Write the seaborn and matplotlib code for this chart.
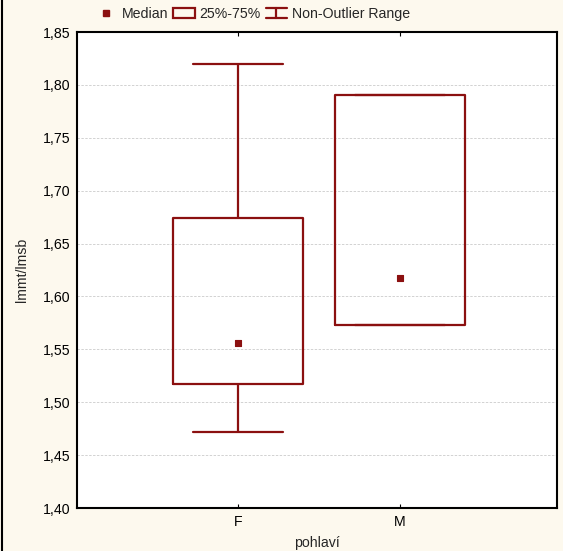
import matplotlib
matplotlib.use("Agg")
import matplotlib.pyplot as plt
import seaborn as sns
import pandas as pd
from matplotlib.lines import Line2D
from matplotlib.patches import Patch
from matplotlib.legend_handler import HandlerBase
from matplotlib.ticker import FuncFormatter

# Data: summary values per category
categories = ["F", "M"]
whisker_low = [1.472, 1.573]
q1 = [1.517, 1.573]
median = [1.556, 1.617]
q3 = [1.674, 1.790]
whisker_high = [1.820, 1.790]
y_ticks = [1.40, 1.45, 1.50, 1.55, 1.60, 1.65, 1.70, 1.75, 1.80, 1.85]

rows = []
for i, c in enumerate(categories):
    for v in (whisker_low[i], q1[i], median[i], q3[i], whisker_high[i]):
        rows.append({"pohlaví": c, "val": v})
df = pd.DataFrame(rows)
med_df = pd.DataFrame({"pohlaví": categories, "val": median})

sns.set_theme(style="white")
plt.rcParams["font.family"] = ["Liberation Sans", "DejaVu Sans"]
plt.rcParams["font.size"] = 10

RED = "#8b1010"
BG = "#fdf9ee"
FS = 10.2

fig = plt.figure(figsize=(5.63, 5.51), dpi=100, facecolor=BG)
ax = fig.add_axes([77/563, 1-508/551, 480/563, 476/551])
ax.set_facecolor("white")

sns.boxplot(data=df, x="pohlaví", y="val", order=categories, ax=ax,
            width=0.8, fill=False, whis=10, capwidths=0.56,
            boxprops=dict(color=RED, linewidth=1.6),
            whiskerprops=dict(color=RED, linewidth=1.6),
            capprops=dict(color=RED, linewidth=1.6),
            medianprops=dict(visible=False),
            showfliers=False, zorder=3)
sns.scatterplot(data=med_df, x="pohlaví", y="val", ax=ax, marker="s", s=18,
                color=RED, edgecolor=RED, linewidth=0.8, zorder=4, legend=False)

ax.set_xlim(-0.994, 1.97)
ax.set_ylim(1.40, 1.85)
ax.set_yticks(y_ticks)
ax.yaxis.set_major_formatter(FuncFormatter(lambda v, p: f"{v:.2f}".replace(".", ",")))
ax.yaxis.grid(True, color="#d2d2d2", linestyle=(0, (2.5, 1.5)), linewidth=0.7)
ax.set_axisbelow(True)
for s in ax.spines.values():
    s.set_color("black")
    s.set_linewidth(1.5)
    s.set_visible(True)
ax.tick_params(axis="y", direction="out", length=2, width=0.8, colors="black",
               labelsize=FS, pad=3)
ax.tick_params(axis="x", direction="in", length=3, width=0.8, colors="black",
               labelsize=FS, top=True, bottom=True, pad=5)
ax.set_xlabel("pohlaví", fontsize=FS, labelpad=5)
ax.set_ylabel("lmmt/lmsb", fontsize=FS, labelpad=10)


class HandlerWhisker(HandlerBase):
    def create_artists(self, legend, orig_handle, xdescent, ydescent, width,
                       height, fontsize, trans):
        cx = width / 2 - xdescent
        y0 = -ydescent
        y1 = height - ydescent
        w = width
        lines = [
            Line2D([cx - w/2, cx + w/2], [y0, y0], color=RED, lw=1.6),
            Line2D([cx - w/2, cx + w/2], [y1, y1], color=RED, lw=1.6),
            Line2D([cx, cx], [y0, y1], color=RED, lw=1.6),
        ]
        for l in lines:
            l.set_transform(trans)
        return lines


h_med = Line2D([], [], marker="s", linestyle="none", color=RED, markersize=4.5)
h_box = Patch(facecolor="none", edgecolor=RED, linewidth=1.6)
h_whi = Line2D([], [], color=RED)
fig.legend([h_med, h_box, h_whi], ["Median", "25%-75%", "Non-Outlier Range"],
           handler_map={h_whi: HandlerWhisker()},
           loc="center", bbox_to_anchor=(253/563, 1-14/551), ncol=3, frameon=False,
           fontsize=FS, handlelength=1.5, handleheight=0.75, handletextpad=0.35,
           columnspacing=0.35, borderpad=0.1)

fig.add_artist(Line2D([0.004, 0.004], [0, 1], color="black", lw=1.5,
                      transform=fig.transFigure))

fig.savefig("out.png", dpi=100, facecolor=BG)
